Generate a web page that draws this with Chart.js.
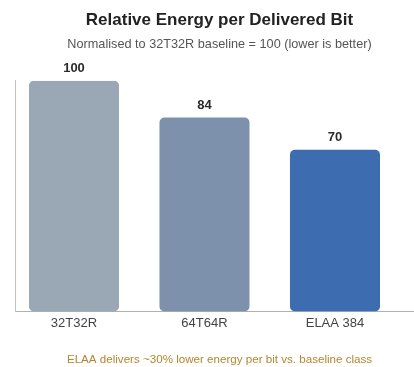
<!DOCTYPE html>
<html>
<head>
<meta charset="utf-8">
<script src="https://cdn.jsdelivr.net/npm/chart.js@4"></script>
<style>
  html, body { margin: 0; padding: 0; background: #fff; overflow: hidden; }
  #wrap { width: 439px; height: 367px; position: relative; }
</style>
</head>
<body>
<div id="wrap"><canvas id="c"></canvas></div>
<script>
const categories = ['32T32R', '64T64R', 'ELAA 384'];
const values = [100, 84, 70];
const barColors = ['#9aa7b5', '#7d91ac', '#3e6cb0'];
const titleText = 'Relative Energy per Delivered Bit';
const subtitleText = 'Normalised to 32T32R baseline = 100 (lower is better)';
const footerText = 'ELAA delivers ~30% lower energy per bit vs. baseline class';

const FONT = "'Liberation Sans', Arial, Helvetica, sans-serif";

const valueLabels = {
  id: 'valueLabels',
  afterDatasetsDraw(chart) {
    const ctx = chart.ctx;
    const meta = chart.getDatasetMeta(0);
    ctx.save();
    ctx.font = 'bold 13px ' + FONT;
    ctx.fillStyle = '#2b2b2b';
    ctx.textAlign = 'center';
    ctx.textBaseline = 'middle';
    meta.data.forEach((el, i) => {
      ctx.fillText(String(values[i]), el.x, el.y - 12);
    });
    ctx.restore();
  }
};

const footerNote = {
  id: 'footerNote',
  afterDraw(chart) {
    const ctx = chart.ctx;
    ctx.save();
    ctx.font = '11.6px ' + FONT;
    ctx.fillStyle = '#b5852f';
    ctx.textAlign = 'center';
    ctx.textBaseline = 'middle';
    ctx.fillText(footerText, chart.width / 2, chart.height - 7);
    ctx.restore();
  }
};

new Chart(document.getElementById('c'), {
  type: 'bar',
  data: {
    datasets: [{
      data: values.map((v, i) => ({ x: i, y: v })),
      backgroundColor: barColors,
      borderRadius: 5,
      borderSkipped: false,
      categoryPercentage: 1,
      barPercentage: 0.69
    }]
  },
  options: {
    responsive: true,
    maintainAspectRatio: false,
    animation: false,
    layout: { padding: { left: 0, right: 0, top: 0, bottom: 32 } },
    plugins: {
      legend: { display: false },
      tooltip: { enabled: false },
      title: {
        display: true,
        text: titleText,
        color: '#222',
        font: { family: FONT, size: 17, weight: 'bold' },
        padding: { top: 10, bottom: 6 }
      },
      subtitle: {
        display: true,
        text: subtitleText,
        color: '#555',
        font: { family: FONT, size: 12.7 },
        padding: { top: 0, bottom: 29 }
      }
    },
    scales: {
      x: {
        type: 'linear',
        offset: false,
        min: -0.4521,
        max: 2.797,
        afterBuildTicks: (scale) => {
          scale.ticks = categories.map((_, i) => ({ value: i }));
        },
        grid: { display: false, drawTicks: false },
        border: { display: true, color: '#b0b0b0', width: 1 },
        ticks: {
          autoSkip: false,
          maxRotation: 0,
          padding: 4,
          color: '#444',
          font: { family: FONT, size: 13 },
          callback: (v) => categories[v] !== undefined ? categories[v] : ''
        }
      },
      y: {
        min: 0,
        max: 100,
        afterFit: (scale) => { scale.width = 15; },
        grid: { display: false, drawTicks: false },
        border: { display: true, color: '#c0c0c0', width: 1 },
        ticks: { display: false }
      }
    }
  },
  plugins: [valueLabels, footerNote]
});
</script>
</body>
</html>
